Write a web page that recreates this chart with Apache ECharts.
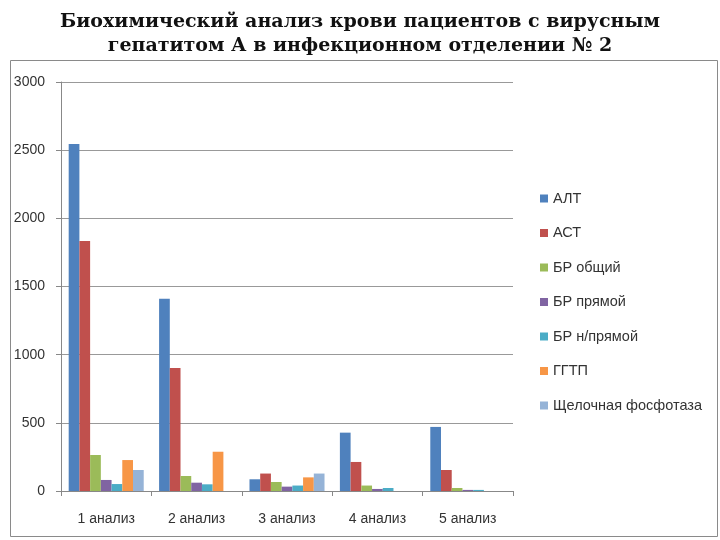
<!DOCTYPE html>
<html><head><meta charset="utf-8">
<script src="https://cdn.jsdelivr.net/npm/echarts@6/dist/echarts.min.js"></script>
<style>html,body{margin:0;padding:0;background:#fff}#c{width:720px;height:540px}</style>
</head><body><div id="c"></div>
<script>
const categories = ['1 анализ','2 анализ','3 анализ','4 анализ','5 анализ'];
const seriesNames = ['АЛТ','АСТ','БР общий','БР прямой','БР н/прямой','ГГТП','Щелочная фосфотаза'];
const altValues = [2545, 1410, 86, 428, 470];
const astValues = [1834, 902, 128, 213, 154];
const brTotalValues = [264, 110, 66, 40, 22];
const brDirectValues = [81, 61, 32, 15, 8];
const brIndirectValues = [51, 49, 40, 22, 8];
const ggtpValues = [227, 288, 100, 0, 0];
const alkPhosValues = [154, 0, 128, 0, 0];
const colors = ['#4F81BD','#C0504D','#9BBB59','#8064A2','#4BACC6','#F79646','#95B3D7'];
const yTicks = [0, 500, 1000, 1500, 2000, 2500, 3000];

const allValues = [altValues, astValues, brTotalValues, brDirectValues, brIndirectValues, ggtpValues, alkPhosValues];
const chart = echarts.init(document.getElementById('c'));
const font = 'Liberation Sans';
chart.setOption({
  animation: false,
  color: colors,
  title: {
    text: 'Биохимический анализ крови пациентов с вирусным\nгепатитом А в инфекционном отделении № 2',
    left: 'center', top: 5,
    textStyle: { fontFamily: 'DejaVu Serif', fontWeight: 'bold', fontSize: 19, lineHeight: 24, color: '#111' }
  },
  graphic: [{ type: 'rect', shape: { x: 10.5, y: 60.5, width: 707, height: 476 }, style: { fill: 'none', stroke: '#8a8a8a', lineWidth: 1 } }],
  legend: {
    orient: 'vertical', left: 535, top: 186, itemGap: 19.5, itemWidth: 8, itemHeight: 8, icon: 'rect',
    textStyle: { fontFamily: font, fontSize: 14.5, color: '#333' },
    data: seriesNames
  },
  grid: { left: 61, right: 207, top: 82, bottom: 49, containLabel: false },
  xAxis: {
    type: 'category', data: categories,
    axisLine: { lineStyle: { color: '#888' } },
    axisTick: { show: true, length: 5, lineStyle: { color: '#888' } },
    axisLabel: { fontFamily: font, fontSize: 14, color: '#333', margin: 21 }
  },
  yAxis: {
    type: 'value', min: yTicks[0], max: yTicks[yTicks.length - 1], interval: 500,
    axisLine: { show: true, lineStyle: { color: '#888' } },
    axisTick: { show: true, length: 5, lineStyle: { color: '#888' } },
    splitLine: { lineStyle: { color: '#999' } },
    axisLabel: { fontFamily: font, fontSize: 14, color: '#333', margin: 16, formatter: v => String(v) }
  },
  series: seriesNames.map((n, i) => ({
    name: n, type: 'bar', data: allValues[i], barGap: '0%', barCategoryGap: '17%'
  }))
});
</script></body></html>
